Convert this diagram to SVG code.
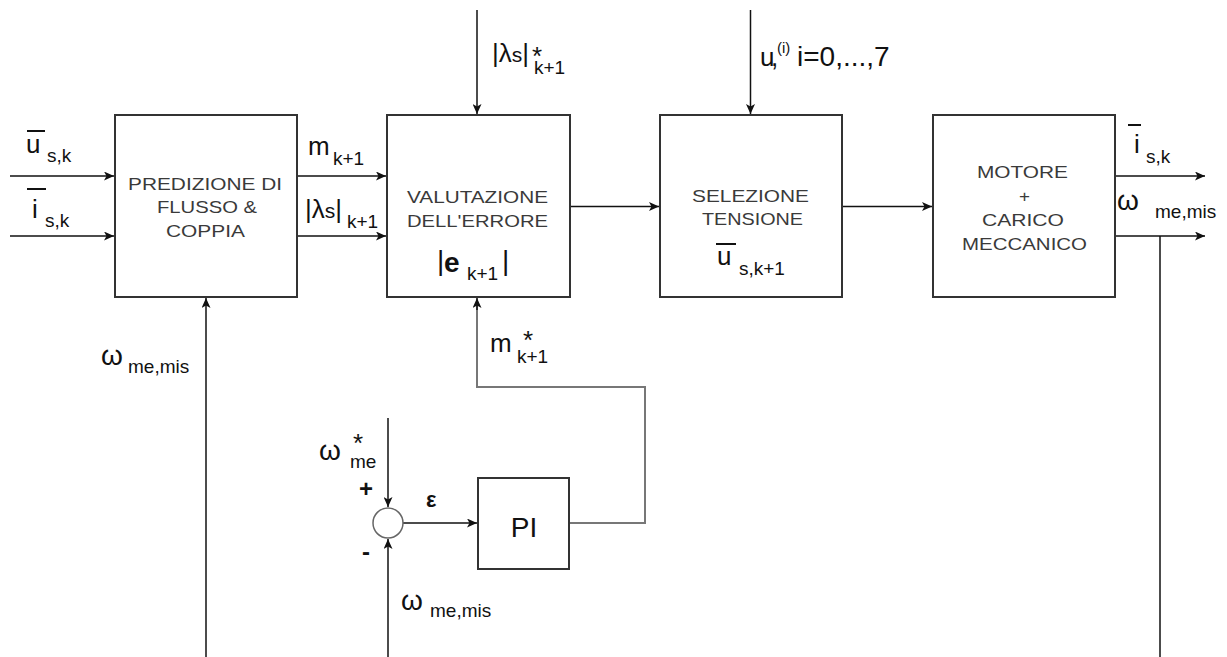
<svg xmlns="http://www.w3.org/2000/svg" width="1227" height="657" viewBox="0 0 1227 657">
<style>
.box{fill:#fff;stroke:#333;stroke-width:2}
.bt{font-family:"Liberation Sans",Arial,sans-serif;font-size:16.5px;fill:#3a3a3a}
.c{fill:none;stroke:#111;stroke-width:1.5}
.g{fill:none;stroke:#777;stroke-width:2}
.L{font-family:"Liberation Sans",Arial,sans-serif;font-size:26px;fill:#111}
.S{font-family:"Liberation Sans",Arial,sans-serif;font-size:19px;fill:#111}
.W{font-family:"Liberation Sans",Arial,sans-serif;font-size:28px;fill:#111}
.ov{stroke:#111;stroke-width:2}
</style>
<defs>
<marker id="a" markerWidth="11" markerHeight="9" refX="10" refY="4.5" orient="auto" markerUnits="userSpaceOnUse">
<path d="M0,0 L10,4.5 L0,9 L2.5,4.5 z" fill="#111"/>
</marker>
</defs>
<g id="connectors">
<line class="c" x1="10" y1="176" x2="114" y2="176" marker-end="url(#a)"/>
<line class="c" x1="10" y1="236" x2="114" y2="236" marker-end="url(#a)"/>
<line class="c" x1="297" y1="176" x2="386" y2="176" marker-end="url(#a)"/>
<line class="c" x1="297" y1="236" x2="386" y2="236" marker-end="url(#a)"/>
<line class="c" x1="570" y1="206.5" x2="659" y2="206.5" marker-end="url(#a)"/>
<line class="c" x1="842" y1="206.5" x2="932" y2="206.5" marker-end="url(#a)"/>
<line class="c" x1="477" y1="10" x2="477" y2="114" marker-end="url(#a)"/>
<line class="c" x1="750.5" y1="10" x2="750.5" y2="114" marker-end="url(#a)"/>
<line class="c" x1="1115" y1="176" x2="1205" y2="176" marker-end="url(#a)"/>
<line class="c" x1="1115" y1="236" x2="1205" y2="236" marker-end="url(#a)"/>
<line class="c" x1="1160" y1="236" x2="1160" y2="657"/>
<line class="c" x1="206" y1="657" x2="206" y2="298" marker-end="url(#a)"/>
<polyline class="g" points="569,523 645,523 645,387 477,387 477,304"/>
<line class="c" x1="477" y1="310" x2="477" y2="298" marker-end="url(#a)"/>
<line class="c" x1="388" y1="418" x2="388" y2="507" marker-end="url(#a)"/>
<line class="c" x1="388" y1="657" x2="388" y2="539" marker-end="url(#a)"/>
<line class="c" x1="403" y1="523" x2="477" y2="523" marker-end="url(#a)"/>
</g>
<g id="predizione">
<rect class="box" x="115" y="115" width="182" height="182"/>
<text class="bt" x="128" y="190" textLength="154" lengthAdjust="spacingAndGlyphs">PREDIZIONE DI</text>
<text class="bt" x="157" y="213" textLength="100" lengthAdjust="spacingAndGlyphs">FLUSSO &amp;</text>
<text class="bt" x="166" y="237" textLength="79" lengthAdjust="spacingAndGlyphs">COPPIA</text>
</g>
<g id="valutazione">
<rect class="box" x="387" y="115" width="183" height="182"/>
<text class="bt" x="407" y="203" textLength="141" lengthAdjust="spacingAndGlyphs">VALUTAZIONE</text>
<text class="bt" x="407" y="227" textLength="141" lengthAdjust="spacingAndGlyphs">DELL'ERRORE</text>
<text class="W" x="437" y="270">|</text>
<text class="W" x="444" y="272" font-weight="bold">e</text>
<text class="S" x="467" y="280">k+1</text>
<text class="W" x="502" y="270">|</text>
</g>
<g id="selezione">
<rect class="box" x="660" y="115" width="182" height="182"/>
<text class="bt" x="692" y="202" textLength="117" lengthAdjust="spacingAndGlyphs">SELEZIONE</text>
<text class="bt" x="702" y="225" textLength="101" lengthAdjust="spacingAndGlyphs">TENSIONE</text>
<line class="ov" x1="716" y1="244" x2="736" y2="244"/>
<text class="L" x="717" y="265">u</text>
<text class="S" x="739" y="275">s,k+1</text>
</g>
<g id="motore">
<rect class="box" x="933" y="115" width="182" height="182"/>
<text class="bt" x="977" y="178" textLength="91" lengthAdjust="spacingAndGlyphs">MOTORE</text>
<text class="bt" x="1019" y="202" textLength="11" lengthAdjust="spacingAndGlyphs">+</text>
<text class="bt" x="982" y="226" textLength="82" lengthAdjust="spacingAndGlyphs">CARICO</text>
<text class="bt" x="962" y="250" textLength="125" lengthAdjust="spacingAndGlyphs">MECCANICO</text>
</g>
<g id="pi">
<rect class="box" x="478" y="478" width="91" height="91"/>
<text x="524" y="537" font-family="Liberation Sans,Arial,sans-serif" font-size="28" fill="#111" text-anchor="middle">PI</text>
</g>
<g id="sum">
<circle cx="388" cy="523" r="15" fill="#fff" stroke="#666" stroke-width="1.5"/>
</g>
<g id="labels">
<line class="ov" x1="27" y1="131" x2="45" y2="131"/>
<text class="L" x="26" y="153">u</text>
<text class="S" x="47" y="162">s,k</text>
<line class="ov" x1="27" y1="189" x2="46" y2="189"/>
<text class="L" x="32" y="218">i</text>
<text class="S" x="45" y="227">s,k</text>
<text class="L" x="308" y="155">m</text>
<text class="S" x="333" y="165">k+1</text>
<text class="L" x="305" y="218">|λ<tspan font-size="21">s</tspan>|</text>
<text class="S" x="347" y="228">k+1</text>
<text class="L" x="492" y="62">|λ<tspan font-size="21">s</tspan>|</text>
<text class="L" x="532" y="65">*</text>
<text class="S" x="534" y="74">k+1</text>
<text class="L" x="760" y="66">u</text>
<text class="L" x="771" y="66">,</text>
<text x="777" y="53" font-family="Liberation Sans,Arial,sans-serif" font-size="15" fill="#111">(i)</text>
<text class="W" x="797" y="66">i=0,...,7</text>
<text class="L" x="490" y="352">m</text>
<text class="L" x="523" y="349">*</text>
<text class="S" x="517" y="363">k+1</text>
<text class="W" x="319" y="460">ω</text>
<text class="L" x="353" y="452">*</text>
<text class="S" x="350" y="468">me</text>
<text x="359" y="497" font-family="Liberation Sans,Arial,sans-serif" font-size="24" font-weight="bold" fill="#111">+</text>
<text x="362" y="560" font-family="Liberation Sans,Arial,sans-serif" font-size="24" font-weight="bold" fill="#111">-</text>
<text x="426" y="507" font-family="Liberation Sans,Arial,sans-serif" font-size="22" font-weight="bold" fill="#111">ε</text>
<text class="W" x="401" y="610">ω</text>
<text class="S" x="430" y="617">me,mis</text>
<text class="W" x="101" y="365">ω</text>
<text class="S" x="128" y="373">me,mis</text>
<line class="ov" x1="1128" y1="125" x2="1141" y2="125"/>
<text class="L" x="1134" y="153">i</text>
<text class="S" x="1146" y="163">s,k</text>
<text class="W" x="1117" y="210">ω</text>
<text class="S" x="1155" y="218">me,mis</text>
</g>
</svg>
